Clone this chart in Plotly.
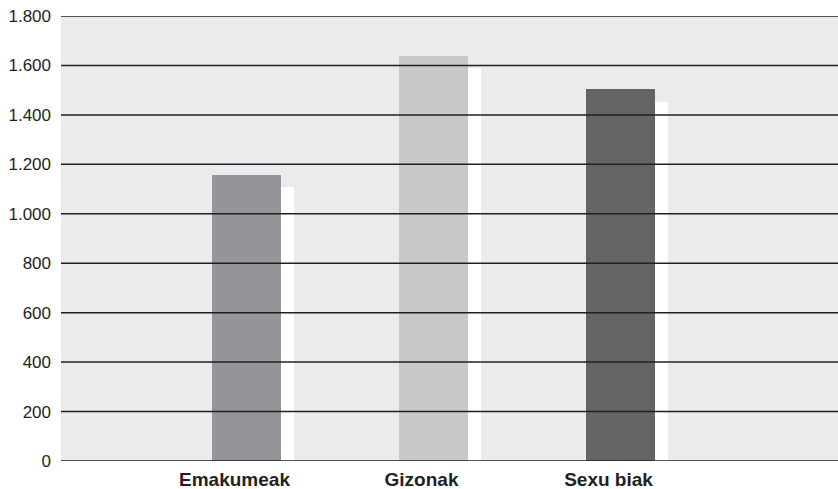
import plotly.graph_objects as go

categories = ["Emakumeak", "Gizonak", "Sexu biak"]
values = [1157, 1640, 1506]
shadow_values = [1108, 1588, 1454]
bar_colors = ["#939598", "#c7c8ca", "#636466"]
tick_vals = [0, 200, 400, 600, 800, 1000, 1200, 1400, 1600, 1800]
tick_text = ["0", "200", "400", "600", "800", "1.000", "1.200", "1.400", "1.600", "1.800"]

BW = 0.369
fig = go.Figure()
fig.add_trace(go.Bar(x=categories, y=shadow_values, marker=dict(color="white", line=dict(width=0)),
                     width=BW, offset=-BW / 2 + 0.07, hoverinfo="skip", showlegend=False))
fig.add_trace(go.Bar(x=categories, y=values, marker=dict(color=bar_colors, line=dict(width=0)),
                     width=BW, offset=-BW / 2, showlegend=False))

for v in tick_vals:
    fig.add_shape(type="line", xref="paper", yref="y", x0=0, x1=1, y0=v, y1=v,
                  line=dict(color="#231f20", width=1.5), layer="above")

fig.update_layout(
    width=838, height=489,
    margin=dict(l=61, r=0, t=16, b=28),
    paper_bgcolor="white", plot_bgcolor="#ebebed",
    barmode="overlay", bargap=0,
    font=dict(family="Liberation Sans, Arial, sans-serif", color="#231f20"),
    xaxis=dict(range=[-0.992, 3.163], showgrid=False, showline=False, zeroline=False, ticks="",
               tickfont=dict(size=19, weight="bold"),
               ticklabelshift=-12, ticklabelstandoff=5),
    yaxis=dict(range=[0, 1800], tickvals=tick_vals, ticktext=tick_text, showgrid=False, zeroline=False,
               showline=False, ticks="", tickfont=dict(size=17), ticklabelstandoff=9),
)

fig.write_html("out.html")
